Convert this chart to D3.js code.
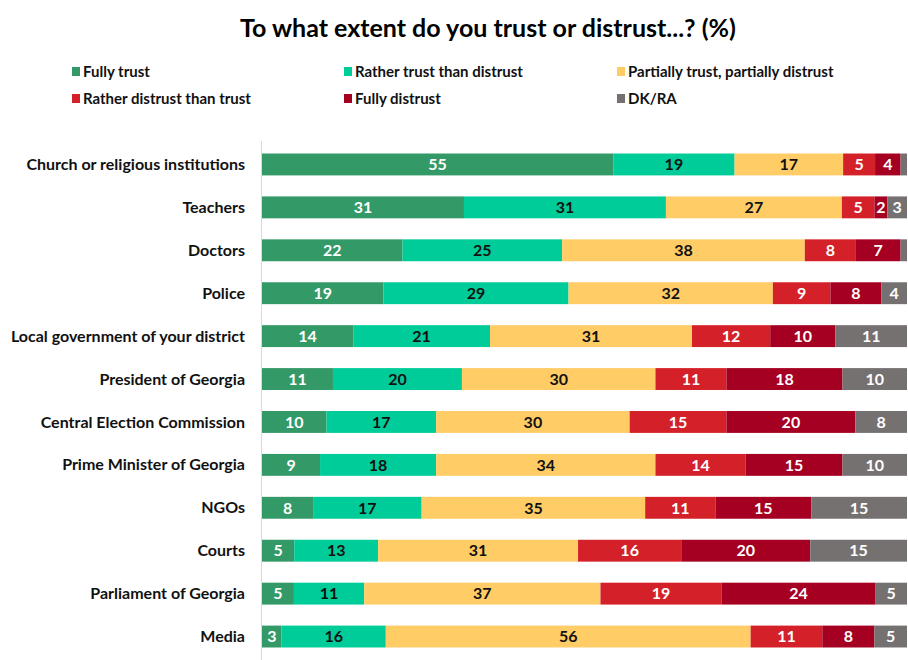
<!DOCTYPE html>
<html>
<head>
<meta charset="utf-8">
<script src="https://cdnjs.cloudflare.com/ajax/libs/d3/7.8.5/d3.min.js"></script>
<style>
  body { margin: 0; background: #fff; }
  text { font-family: Lato, "Open Sans", sans-serif; font-weight: bold; }
</style>
</head>
<body>
<div id="chart"></div>
<script>
// data
let categories = ["Church or religious institutions", "Teachers", "Doctors", "Police",
  "Local government of your district", "President of Georgia", "Central Election Commission",
  "Prime Minister of Georgia", "NGOs", "Courts", "Parliament of Georgia", "Media"];
let seriesNames = ["Fully trust", "Rather trust than distrust", "Partially trust, partially distrust",
  "Rather distrust than trust", "Fully distrust", "DK/RA"];
let fullyTrust      = [55, 31, 22, 19, 14, 11, 10,  9,  8,  5,  5,  3];
let ratherTrust     = [19, 31, 25, 29, 21, 20, 17, 18, 17, 13, 11, 16];
let partially       = [17, 27, 38, 32, 31, 30, 30, 34, 35, 31, 37, 56];
let ratherDistrust  = [ 5,  5,  8,  9, 12, 11, 15, 14, 11, 16, 19, 11];
let fullyDistrust   = [ 4,  2,  7,  8, 10, 18, 20, 15, 15, 20, 24,  8];
let dkra            = [ 1,  3,  1,  4, 11, 10,  8, 10, 15, 15,  5,  5];

let colors = ["#339966", "#00cc99", "#ffcc66", "#d42129", "#a50021", "#767171"];
let labelColors = ["#fff", "#111", "#111", "#fff", "#fff", "#fff"];

let width = 908, height = 660;
let margin = {left: 262, right: 1, top: 143, bottom: 0};

let allSeries = [fullyTrust, ratherTrust, partially, ratherDistrust, fullyDistrust, dkra];
let rows = categories.map((c, i) => {
  let r = {cat: c};
  seriesNames.forEach((s, j) => r[s] = allSeries[j][i]);
  return r;
});

let stacked = d3.stack().keys(seriesNames).offset(d3.stackOffsetExpand)(rows);

let svg = d3.select("#chart").append("svg").attr("width", width).attr("height", height);

svg.append("text").attr("x", 488).attr("y", 37)
  .attr("text-anchor", "middle").style("font-size", "25px").attr("fill", "#000")
  .text("To what extent do you trust or distrust...? (%)");

// legend
let legX = [72, 344, 617], legY = [72, 99];
let legend = svg.selectAll(".legend").data(seriesNames).enter().append("g")
  .attr("class", "legend")
  .attr("transform", (d, i) => "translate(" + legX[i % 3] + "," + legY[Math.floor(i / 3)] + ")");
legend.append("rect").attr("x", 0).attr("y", -5).attr("width", 8).attr("height", 9)
  .attr("fill", (d, i) => colors[i]);
legend.append("text").attr("x", 11).attr("y", 0).attr("dy", "0.35em")
  .style("font-size", "15px").attr("fill", "#111").text(d => d);

let x = d3.scaleLinear().domain([0, 1]).range([margin.left, width - margin.right]);
let y = d3.scaleBand().domain(categories).range([margin.top, height - 2]).paddingInner(0.49).paddingOuter(0.245);

svg.append("line").attr("x1", margin.left - 0.5).attr("x2", margin.left - 0.5)
  .attr("y1", margin.top - 2).attr("y2", height).attr("stroke", "#d9d9d9");

let layers = svg.selectAll(".layer").data(stacked).enter().append("g")
  .attr("class", "layer").attr("fill", (d, i) => colors[i]);

layers.selectAll("rect").data(d => d).enter().append("rect")
  .attr("x", d => x(d[0]))
  .attr("y", d => y(d.data.cat))
  .attr("width", d => x(d[1]) - x(d[0]))
  .attr("height", y.bandwidth());

layers.each(function(s, i) {
  d3.select(this).selectAll(".val").data(s).enter().append("text")
    .attr("class", "val")
    .filter(d => d.data[s.key] >= 2)
    .attr("x", d => (x(d[0]) + x(d[1])) / 2)
    .attr("y", d => y(d.data.cat) + y.bandwidth() / 2)
    .attr("dy", "0.36em").attr("text-anchor", "middle")
    .style("font-size", "16px").attr("fill", labelColors[i])
    .text(d => d.data[s.key]);
});

svg.selectAll(".cat").data(categories).enter().append("text")
  .attr("class", "cat")
  .attr("x", 245).attr("y", d => y(d) + y.bandwidth() / 2).attr("dy", "0.35em")
  .attr("text-anchor", "end").style("font-size", "16px").attr("fill", "#111")
  .text(d => d);
</script>
</body>
</html>
